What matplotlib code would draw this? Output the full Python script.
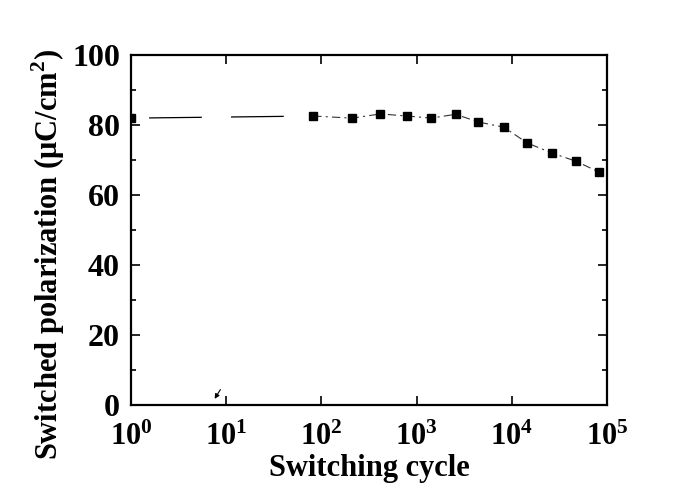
import matplotlib
matplotlib.use("Agg")
import matplotlib.pyplot as plt
from matplotlib.ticker import LogLocator, FixedLocator, MultipleLocator, NullFormatter

# data
cycles = [1, 82, 210, 415, 795, 1420, 2570, 4440, 8260, 14500, 26500, 47000, 82000]
polarization = [82.0, 82.6, 82.0, 83.2, 82.6, 82.0, 83.1, 80.9, 79.4, 74.9, 72.0, 69.7, 66.6]
x_ticks = [1, 10, 100, 1000, 10000, 100000]
x_labels = [r"$\mathbf{10^{%d}}$" % i for i in range(6)]
y_ticks = [0, 20, 40, 60, 80, 100]

plt.rcParams["font.family"] = ["Liberation Serif", "DejaVu Serif"]
plt.rcParams["font.weight"] = "bold"
plt.rcParams["mathtext.fontset"] = "custom"
plt.rcParams["mathtext.rm"] = "Liberation Serif:bold"
plt.rcParams["mathtext.bf"] = "Liberation Serif:bold"
plt.rcParams["lines.scale_dashes"] = False

fig = plt.figure(figsize=(6.92, 4.88), dpi=100)
ax = fig.add_axes([0.1893, 0.170, 0.6879, 0.717])

# long dashes for the first gap, shorter ones after
ax.plot(cycles[:2], polarization[:2], color="black", lw=0.9,
        linestyle=(46, (38, 21)), zorder=2)
ax.plot(cycles[1:], polarization[1:], color="#333333", lw=0.8,
        linestyle=(0, (6, 3, 1.5, 3)), zorder=2)
ax.plot(cycles, polarization, linestyle="none", marker="s", ms=6.2,
        color="black", zorder=3)

ax.set_xscale("log")
ax.set_xlim(1, 1e5)
ax.set_ylim(0, 100)

ax.xaxis.set_major_locator(FixedLocator(x_ticks))
ax.set_xticklabels(x_labels)
ax.xaxis.set_minor_locator(LogLocator(base=10, subs=range(2, 10)))
ax.xaxis.set_minor_formatter(NullFormatter())
ax.set_yticks(y_ticks)
ax.yaxis.set_minor_locator(MultipleLocator(10))

ax.tick_params(which="both", direction="in", top=True, right=True, width=1.2)
ax.tick_params(which="major", length=6.5)
ax.tick_params(which="minor", length=3.5)
ax.tick_params(axis="y", labelsize=23, pad=8)
ax.tick_params(axis="x", labelsize=22, pad=13)
for lab in ax.get_yticklabels():
    lab.set_fontweight("bold")
for s in ax.spines.values():
    s.set_linewidth(1.6)

ax.set_xlabel("Switching cycle", fontsize=22, fontweight="bold")
ax.set_ylabel("Switched polarization (\u03bcC/cm$^{\\mathbf{2}}$)", fontsize=22,
              fontweight="bold")
ax.xaxis.set_label_coords(0.5, -0.14)
ax.yaxis.set_label_coords(-0.135, 0.43)

# small stray arrow near 10^1
ax.annotate("", xy=(7.3, 1.1), xytext=(9.0, 5.1),
            arrowprops=dict(arrowstyle="-|>", lw=0.8, color="black",
                            mutation_scale=7))

fig.savefig("out.png", dpi=100)
